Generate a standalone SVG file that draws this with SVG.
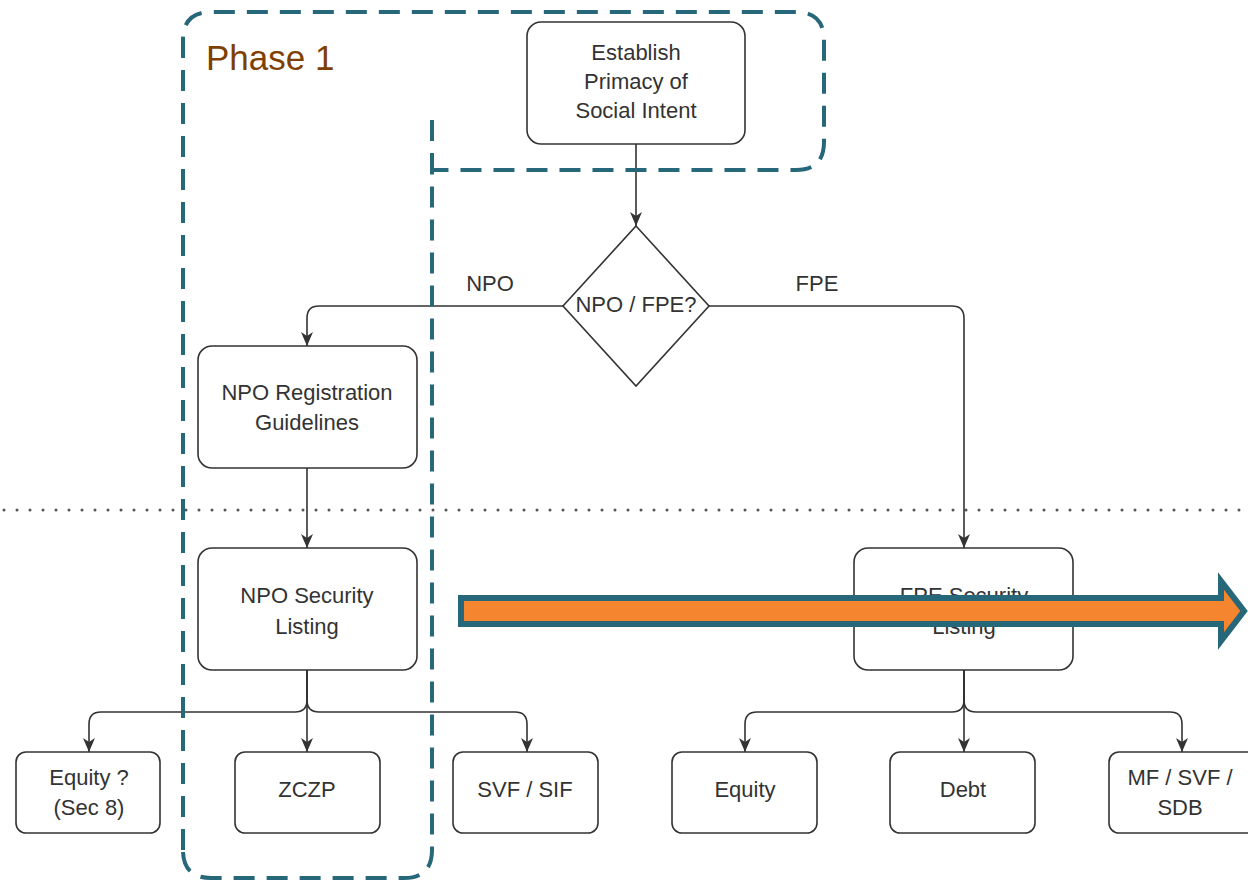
<svg xmlns="http://www.w3.org/2000/svg" width="1248" height="880" viewBox="0 0 1248 880">
<style>
.box{fill:#fff;stroke:#333;stroke-width:1.6}
.t{font-family:"Liberation Sans",Arial,sans-serif;font-size:22px;fill:#333;text-anchor:middle}
.edge{fill:none;stroke:#333;stroke-width:1.6}
.phase{fill:none;stroke:#26677a;stroke-width:4;stroke-dasharray:21 12}
</style>
<defs>
<marker id="ah" viewBox="0 0 14 12" refX="14" refY="6" markerWidth="14" markerHeight="12" markerUnits="userSpaceOnUse" orient="auto">
<path d="M0,0 L14,6 L0,12 L4,6 Z" fill="#333"/>
</marker>
</defs>
<rect width="1248" height="880" fill="#fff"/>
<line x1="4" y1="510" x2="1248" y2="510" stroke="#555" stroke-width="3" stroke-linecap="round" stroke-dasharray="0 13"/>
<g id="connectors">
<path class="edge" d="M636,144 V226" marker-end="url(#ah)"/>
<path class="edge" d="M563,306 H319 Q307,306 307,318 V346" marker-end="url(#ah)"/>
<path class="edge" d="M709,306 H952 Q964,306 964,318 V548" marker-end="url(#ah)"/>
<path class="edge" d="M307,468 V548" marker-end="url(#ah)"/>
<path class="edge" d="M307,670 V700 Q307,712 295,712 H101 Q89,712 89,724 V752" marker-end="url(#ah)"/>
<path class="edge" d="M307,670 V752" marker-end="url(#ah)"/>
<path class="edge" d="M307,670 V700 Q307,712 319,712 H515 Q527,712 527,724 V752" marker-end="url(#ah)"/>
<path class="edge" d="M964,670 V700 Q964,712 952,712 H757 Q745,712 745,724 V752" marker-end="url(#ah)"/>
<path class="edge" d="M964,670 V752" marker-end="url(#ah)"/>
<path class="edge" d="M964,670 V700 Q964,712 976,712 H1170 Q1182,712 1182,724 V752" marker-end="url(#ah)"/>
<text class="t" x="490" y="291">NPO</text>
<text class="t" x="817" y="291">FPE</text>
</g>
<g id="establish">
<rect class="box" x="527" y="22" width="218" height="122" rx="14"/>
<text class="t" x="636" y="60">Establish</text>
<text class="t" x="636" y="89">Primacy of</text>
<text class="t" x="636" y="118">Social Intent</text>
</g>
<g id="decision">
<path class="box" d="M636,226 L709,306 L636,386 L563,306 Z"/>
<text class="t" x="636" y="312">NPO / FPE?</text>
</g>
<g id="npo-reg">
<rect class="box" x="198" y="346" width="219" height="122" rx="14"/>
<text class="t" x="307" y="400">NPO Registration</text>
<text class="t" x="307" y="430">Guidelines</text>
</g>
<g id="npo-sec">
<rect class="box" x="198" y="548" width="219" height="122" rx="14"/>
<text class="t" x="307" y="603">NPO Security</text>
<text class="t" x="307" y="634">Listing</text>
</g>
<g id="fpe-sec">
<rect class="box" x="854" y="548" width="219" height="122" rx="14"/>
<text class="t" x="964" y="603">FPE Security</text>
<text class="t" x="964" y="634">Listing</text>
</g>
<g id="equity-sec8">
<rect class="box" x="16" y="752" width="144" height="81" rx="10"/>
<text class="t" x="89" y="785">Equity ?</text>
<text class="t" x="89" y="815">(Sec 8)</text>
</g>
<g id="zczp">
<rect class="box" x="235" y="752" width="145" height="81" rx="10"/>
<text class="t" x="307" y="797">ZCZP</text>
</g>
<g id="svf-sif">
<rect class="box" x="453" y="752" width="145" height="81" rx="10"/>
<text class="t" x="525" y="797">SVF / SIF</text>
</g>
<g id="equity">
<rect class="box" x="672" y="752" width="145" height="81" rx="10"/>
<text class="t" x="745" y="797">Equity</text>
</g>
<g id="debt">
<rect class="box" x="890" y="752" width="145" height="81" rx="10"/>
<text class="t" x="963" y="797">Debt</text>
</g>
<g id="mf-svf-sdb">
<rect class="box" x="1109" y="752" width="148" height="81" rx="10"/>
<text class="t" x="1180" y="785">MF / SVF /</text>
<text class="t" x="1180" y="815">SDB</text>
</g>
<g id="phase1">
<path class="phase" d="M183,850 V40 Q183,12 211,12 H796 Q824,12 824,40 V142 Q824,170 796,170 H432 V850 Q432,878 404,878 H211 Q183,878 183,850 Z"/>
<path class="phase" d="M432,120 V170"/>
<text x="206" y="70" font-family="'Liberation Sans',Arial,sans-serif" font-size="35" fill="#7f3f00">Phase 1</text>
</g>
<g id="big-arrow">
<path d="M461,598 H1221 V581 L1244,611 L1221,641 V624 H461 Z" fill="#f5862f" stroke="#26677a" stroke-width="6"/>
</g>
</svg>
